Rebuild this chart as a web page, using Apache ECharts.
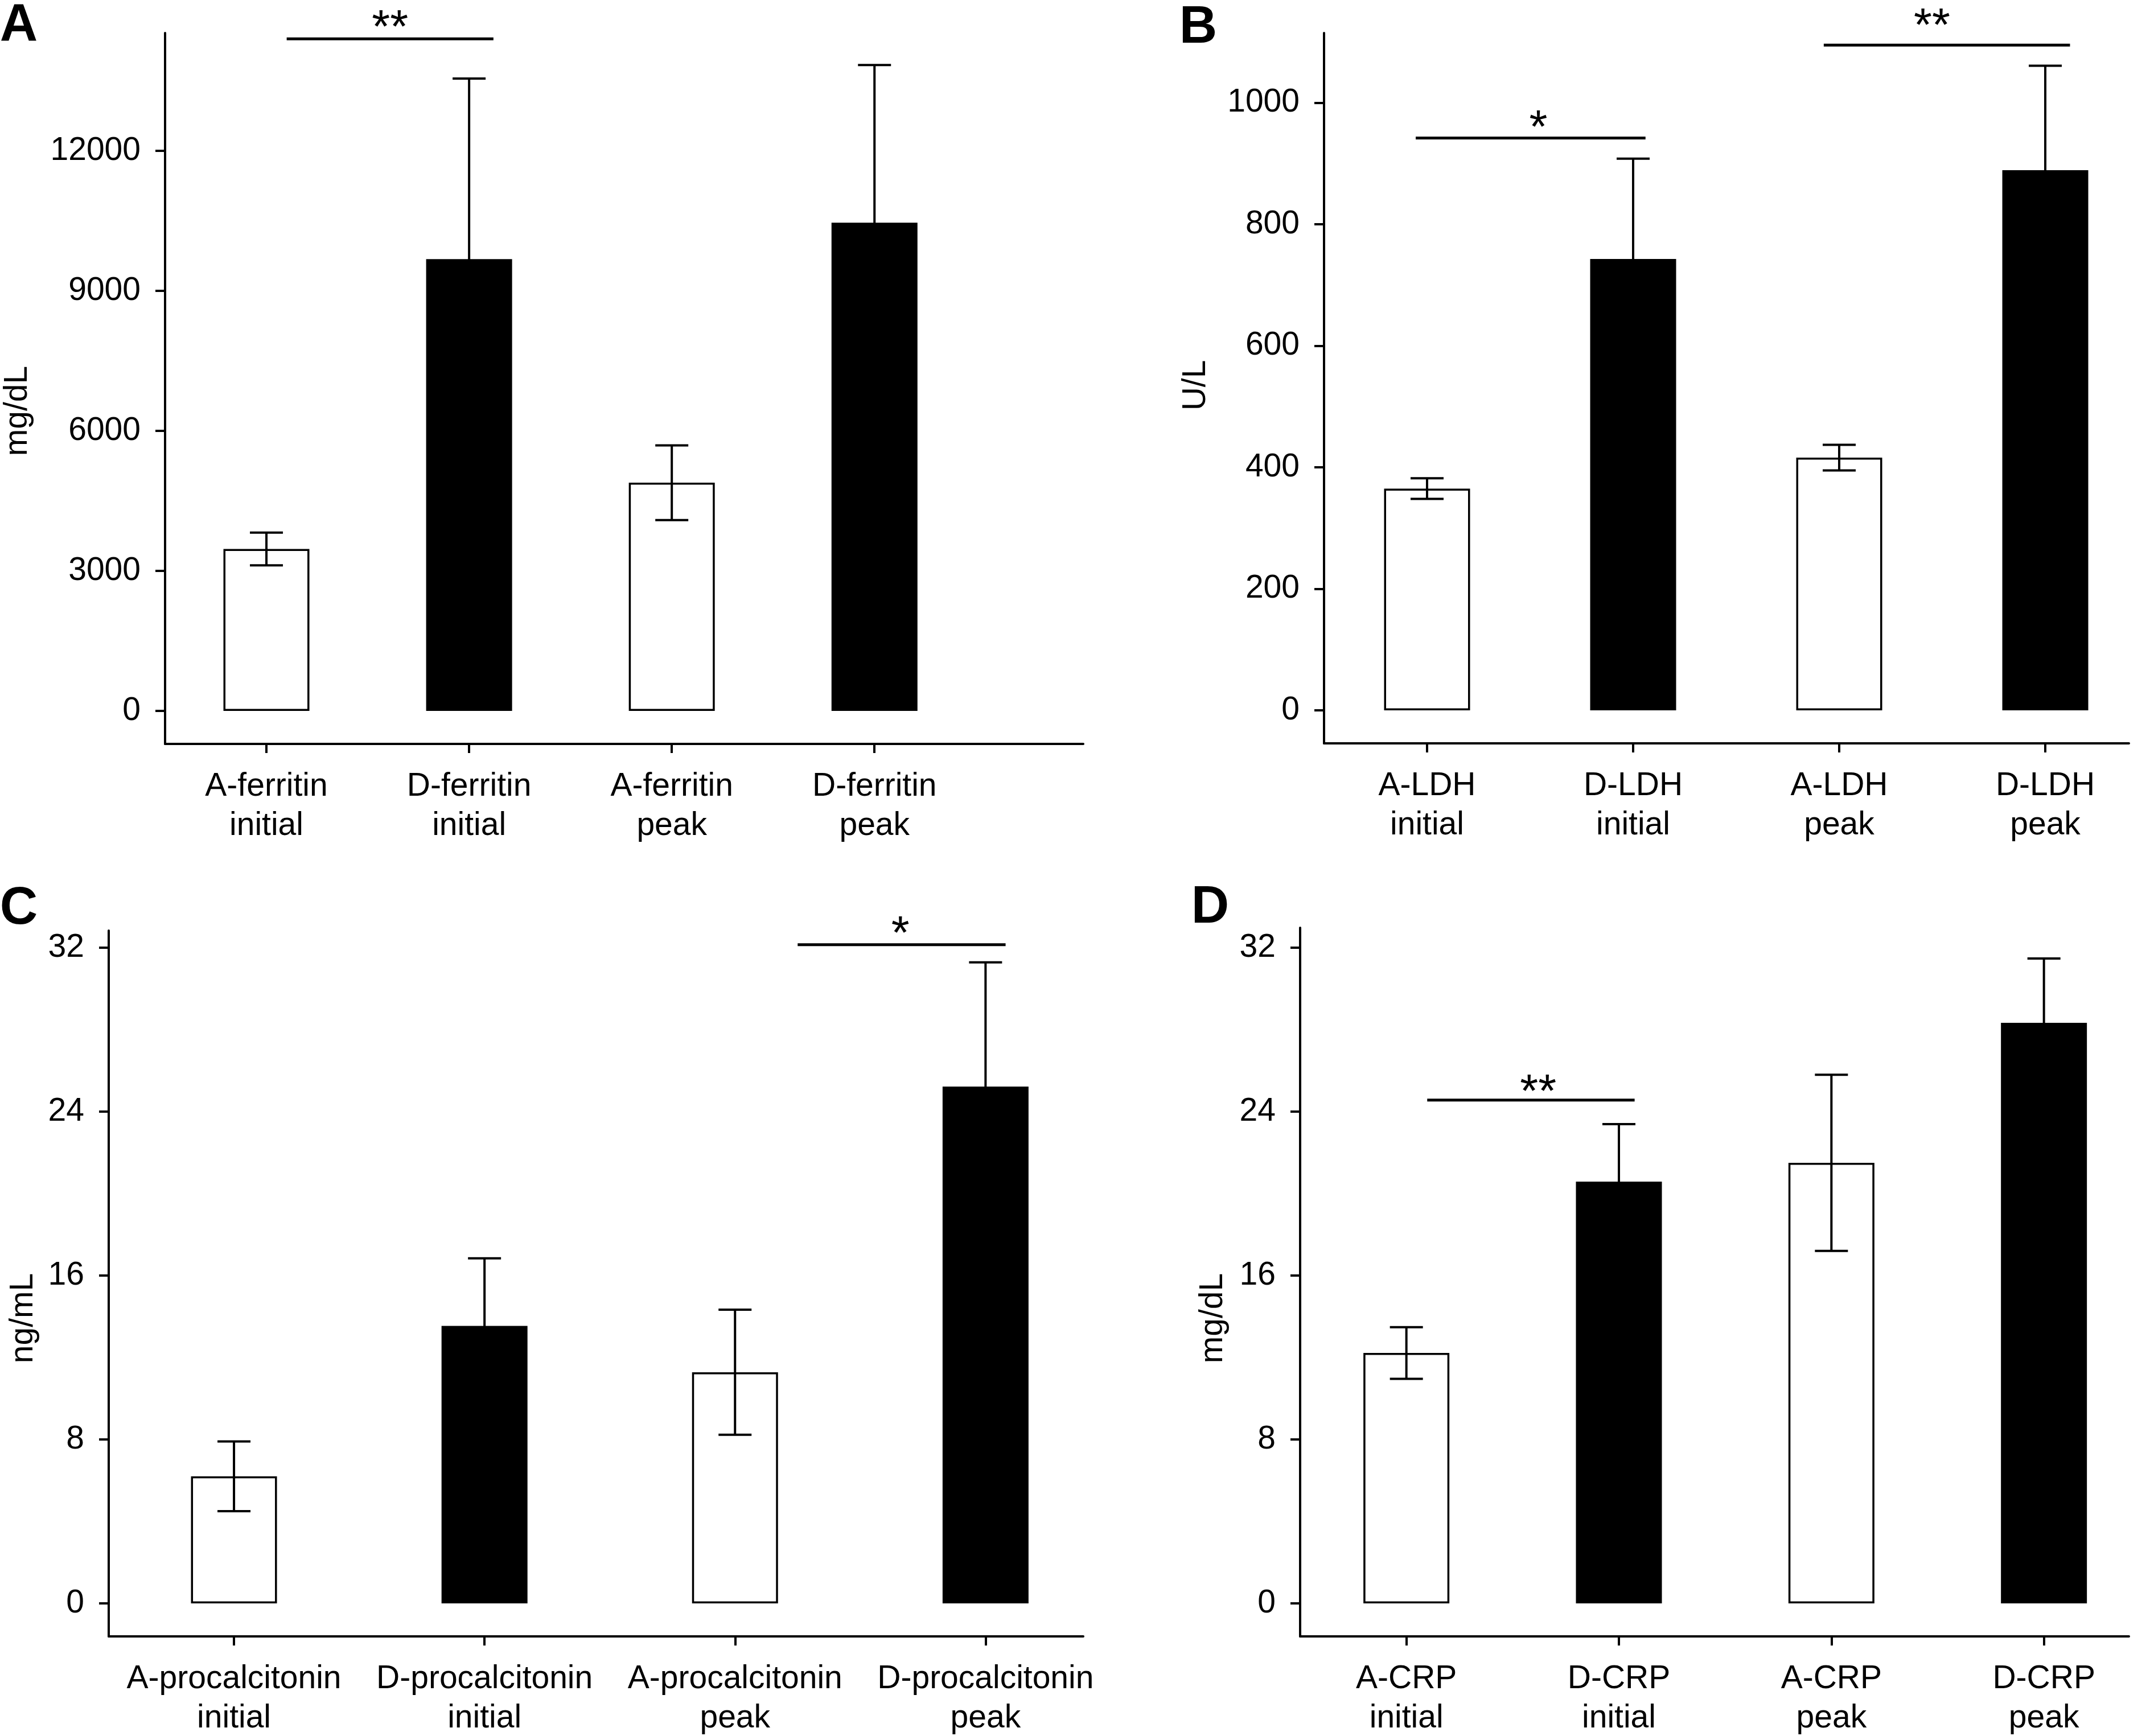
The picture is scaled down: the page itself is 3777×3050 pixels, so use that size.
<!DOCTYPE html>
<html>
<head>
<meta charset="utf-8">
<script src="https://cdn.jsdelivr.net/npm/echarts@6/dist/echarts.min.js"></script>
<style>
html,body{margin:0;padding:0;background:#fff;}
#chart{width:3777px;height:3050px;}
</style>
</head>
<body>
<div id="chart"></div>
<script>
// ---------- DATA ----------
const catsA = ['A-ferritin\ninitial', 'D-ferritin\ninitial', 'A-ferritin\npeak', 'D-ferritin\npeak'];
const meanA = [3470, 9680, 4890, 10460];
const errA  = [350, 3870, 800, 3380];
const ticksA = [0, 3000, 6000, 9000, 12000];
// [lineStart, lineEnd, lineY, starX, starY, text]
const sigA = [[0.10, 1.12, 14400, 0.61, 14830, '**']];

const catsB = ['A-LDH\ninitial', 'D-LDH\ninitial', 'A-LDH\npeak', 'D-LDH\npeak'];
const meanB = [365, 743, 416, 889];
const errB  = [17, 165, 21, 172];
const ticksB = [0, 200, 400, 600, 800, 1000];
const sigB = [[-0.055, 1.06, 942, 0.54, 973, '*'], [1.925, 3.12, 1095, 2.45, 1141, '**']];

const catsC = ['A-procalcitonin\ninitial', 'D-procalcitonin\ninitial', 'A-procalcitonin\npeak', 'D-procalcitonin\npeak'];
const meanC = [6.2, 13.54, 11.28, 25.22];
const errC  = [1.7, 3.3, 3.05, 6.06];
const ticksC = [0, 8, 16, 24, 32];
const sigC = [[2.25, 3.08, 32.14, 2.66, 33.11, '*']];

const catsD = ['A-CRP\ninitial', 'D-CRP\ninitial', 'A-CRP\npeak', 'D-CRP\npeak'];
const meanD = [12.22, 20.58, 21.5, 28.33];
const errD  = [1.26, 2.81, 4.3, 3.14];
const ticksD = [0, 8, 16, 24, 32];
const sigD = [[0.098, 1.074, 24.56, 0.62, 25.39, '**']];

const unitA = 'mg/dL', unitB = 'U/L', unitC = 'ng/mL', unitD = 'mg/dL';

// ---------- LAYOUT / STYLE ----------
const FONT = "'Liberation Sans', Arial, Helvetica, sans-serif";
const panels = [
  {cats: catsA, mean: meanA, err: errA, ticks: ticksA, sig: sigA, unit: unitA, letter: 'A',
   grid: {left: 290, top: 58, width: 1613, height: 1249}, xMax: 4.03, yMin: -707, yMax: 14525,
   namePos: [60, 722], letterPos: [33, 46]},
  {cats: catsB, mean: meanB, err: errB, ticks: ticksB, sig: sigB, unit: unitB, letter: 'B',
   grid: {left: 2326, top: 58, width: 1414, height: 1248}, xMax: 3.406, yMin: -54.3, yMax: 1114.8,
   namePos: [2130, 677], letterPos: [2105, 50]},
  {cats: catsC, mean: meanC, err: errC, ticks: ticksC, sig: sigC, unit: unitC, letter: 'C',
   grid: {left: 191, top: 1635, width: 1712, height: 1240}, xMax: 3.39, yMin: -1.611, yMax: 32.83,
   namePos: [70, 2316], letterPos: [33, 1598]},
  {cats: catsD, mean: meanD, err: errD, ticks: ticksD, sig: sigD, unit: unitD, letter: 'D',
   grid: {left: 2284, top: 1630, width: 1456, height: 1245}, xMax: 3.40, yMin: -1.611, yMax: 32.97,
   namePos: [2160, 2316], letterPos: [2126, 1596]}
];

const AXIS_W = 4, BAR_BORDER = 3.5, ERR_W = 4, CAP_HALF = 29, SIG_W = 5;
const LABEL_FS = 57, STAR_FS = 82, LETTER_FS = 92;

const grids = [], xAxes = [], yAxes = [], series = [], graphics = [];

panels.forEach((p, gi) => {
  grids.push(Object.assign({outerBoundsMode: 'none', containLabel: false}, p.grid));
  const idx = p.cats.map((c, i) => i);
  xAxes.push({
    gridIndex: gi, type: 'value', min: -0.5, max: p.xMax,
    axisLine: {show: true, onZero: false, lineStyle: {color: '#000', width: AXIS_W}},
    axisTick: {show: true, length: 16, customValues: idx, lineStyle: {color: '#000', width: AXIS_W}},
    axisLabel: {show: true, customValues: idx, formatter: (v) => p.cats[Math.round(v)] || '',
      fontSize: LABEL_FS, lineHeight: 69, margin: 41, color: '#000', fontFamily: FONT},
    splitLine: {show: false}
  });
  yAxes.push({
    gridIndex: gi, type: 'value', min: p.yMin, max: p.yMax,
    axisLine: {show: true, onZero: false, lineStyle: {color: '#000', width: AXIS_W}},
    axisTick: {show: true, length: 17, customValues: p.ticks, lineStyle: {color: '#000', width: AXIS_W}},
    axisLabel: {show: true, customValues: p.ticks, formatter: (v) => String(v),
      fontSize: LABEL_FS, margin: 43, color: '#000', fontFamily: FONT},
    splitLine: {show: false}
  });
  // bars
  series.push({
    type: 'bar', xAxisIndex: gi, yAxisIndex: gi, barWidth: 151, z: 2,
    data: p.mean.map((v, i) => {
      const isA = p.cats[i].startsWith('A-');
      return {value: [i, v], itemStyle: isA
        ? {color: '#fff', borderColor: '#000', borderWidth: BAR_BORDER}
        : {color: '#000', borderColor: '#000', borderWidth: 0}};
    })
  });
  // error bars
  series.push({
    type: 'custom', xAxisIndex: gi, yAxisIndex: gi, z: 3, clip: false,
    data: p.mean.map((v, i) => [i, v, p.err[i]]),
    renderItem: (params, api) => {
      const x = api.value(0), m = api.value(1), e = api.value(2);
      const t = api.coord([x, m + e]), b = api.coord([x, m - e]);
      const st = {stroke: '#000', lineWidth: ERR_W};
      return {type: 'group', children: [
        {type: 'line', shape: {x1: t[0], y1: t[1], x2: b[0], y2: b[1]}, style: st},
        {type: 'line', shape: {x1: t[0] - CAP_HALF, y1: t[1], x2: t[0] + CAP_HALF, y2: t[1]}, style: st},
        {type: 'line', shape: {x1: b[0] - CAP_HALF, y1: b[1], x2: b[0] + CAP_HALF, y2: b[1]}, style: st}
      ]};
    }
  });
  // significance lines and stars
  series.push({
    type: 'custom', xAxisIndex: gi, yAxisIndex: gi, z: 4, clip: false,
    data: p.sig.map(s => s.slice(0, 5)),
    renderItem: (params, api) => {
      const s = p.sig[params.dataIndex];
      const a = api.coord([api.value(0), api.value(2)]);
      const c = api.coord([api.value(1), api.value(2)]);
      const t = api.coord([api.value(3), api.value(4)]);
      return {type: 'group', children: [
        {type: 'line', shape: {x1: a[0], y1: a[1], x2: c[0], y2: c[1]}, style: {stroke: '#000', lineWidth: SIG_W}},
        {type: 'text', x: t[0], y: t[1] + STAR_FS * 0.22,
          style: {text: s[5], fontSize: STAR_FS, fontFamily: FONT, fill: '#000', align: 'center', verticalAlign: 'middle'}}
      ]};
    }
  });
  // y-axis unit (rotated)
  graphics.push({type: 'text', x: p.namePos[0], y: p.namePos[1], rotation: Math.PI / 2,
    style: {text: p.unit, fontSize: LABEL_FS, fontFamily: FONT, fill: '#000', align: 'center', verticalAlign: 'bottom'}});
  // panel letter
  graphics.push({type: 'text', x: p.letterPos[0], y: p.letterPos[1],
    style: {text: p.letter, fontSize: LETTER_FS, fontWeight: 'bold', fontFamily: FONT, fill: '#000', align: 'center', verticalAlign: 'middle'}});
});

const chart = echarts.init(document.getElementById('chart'), null, {renderer: 'canvas'});
chart.setOption({
  animation: false,
  backgroundColor: '#fff',
  textStyle: {fontFamily: FONT},
  grid: grids, xAxis: xAxes, yAxis: yAxes, series: series, graphic: graphics
});
</script>
</body>
</html>
